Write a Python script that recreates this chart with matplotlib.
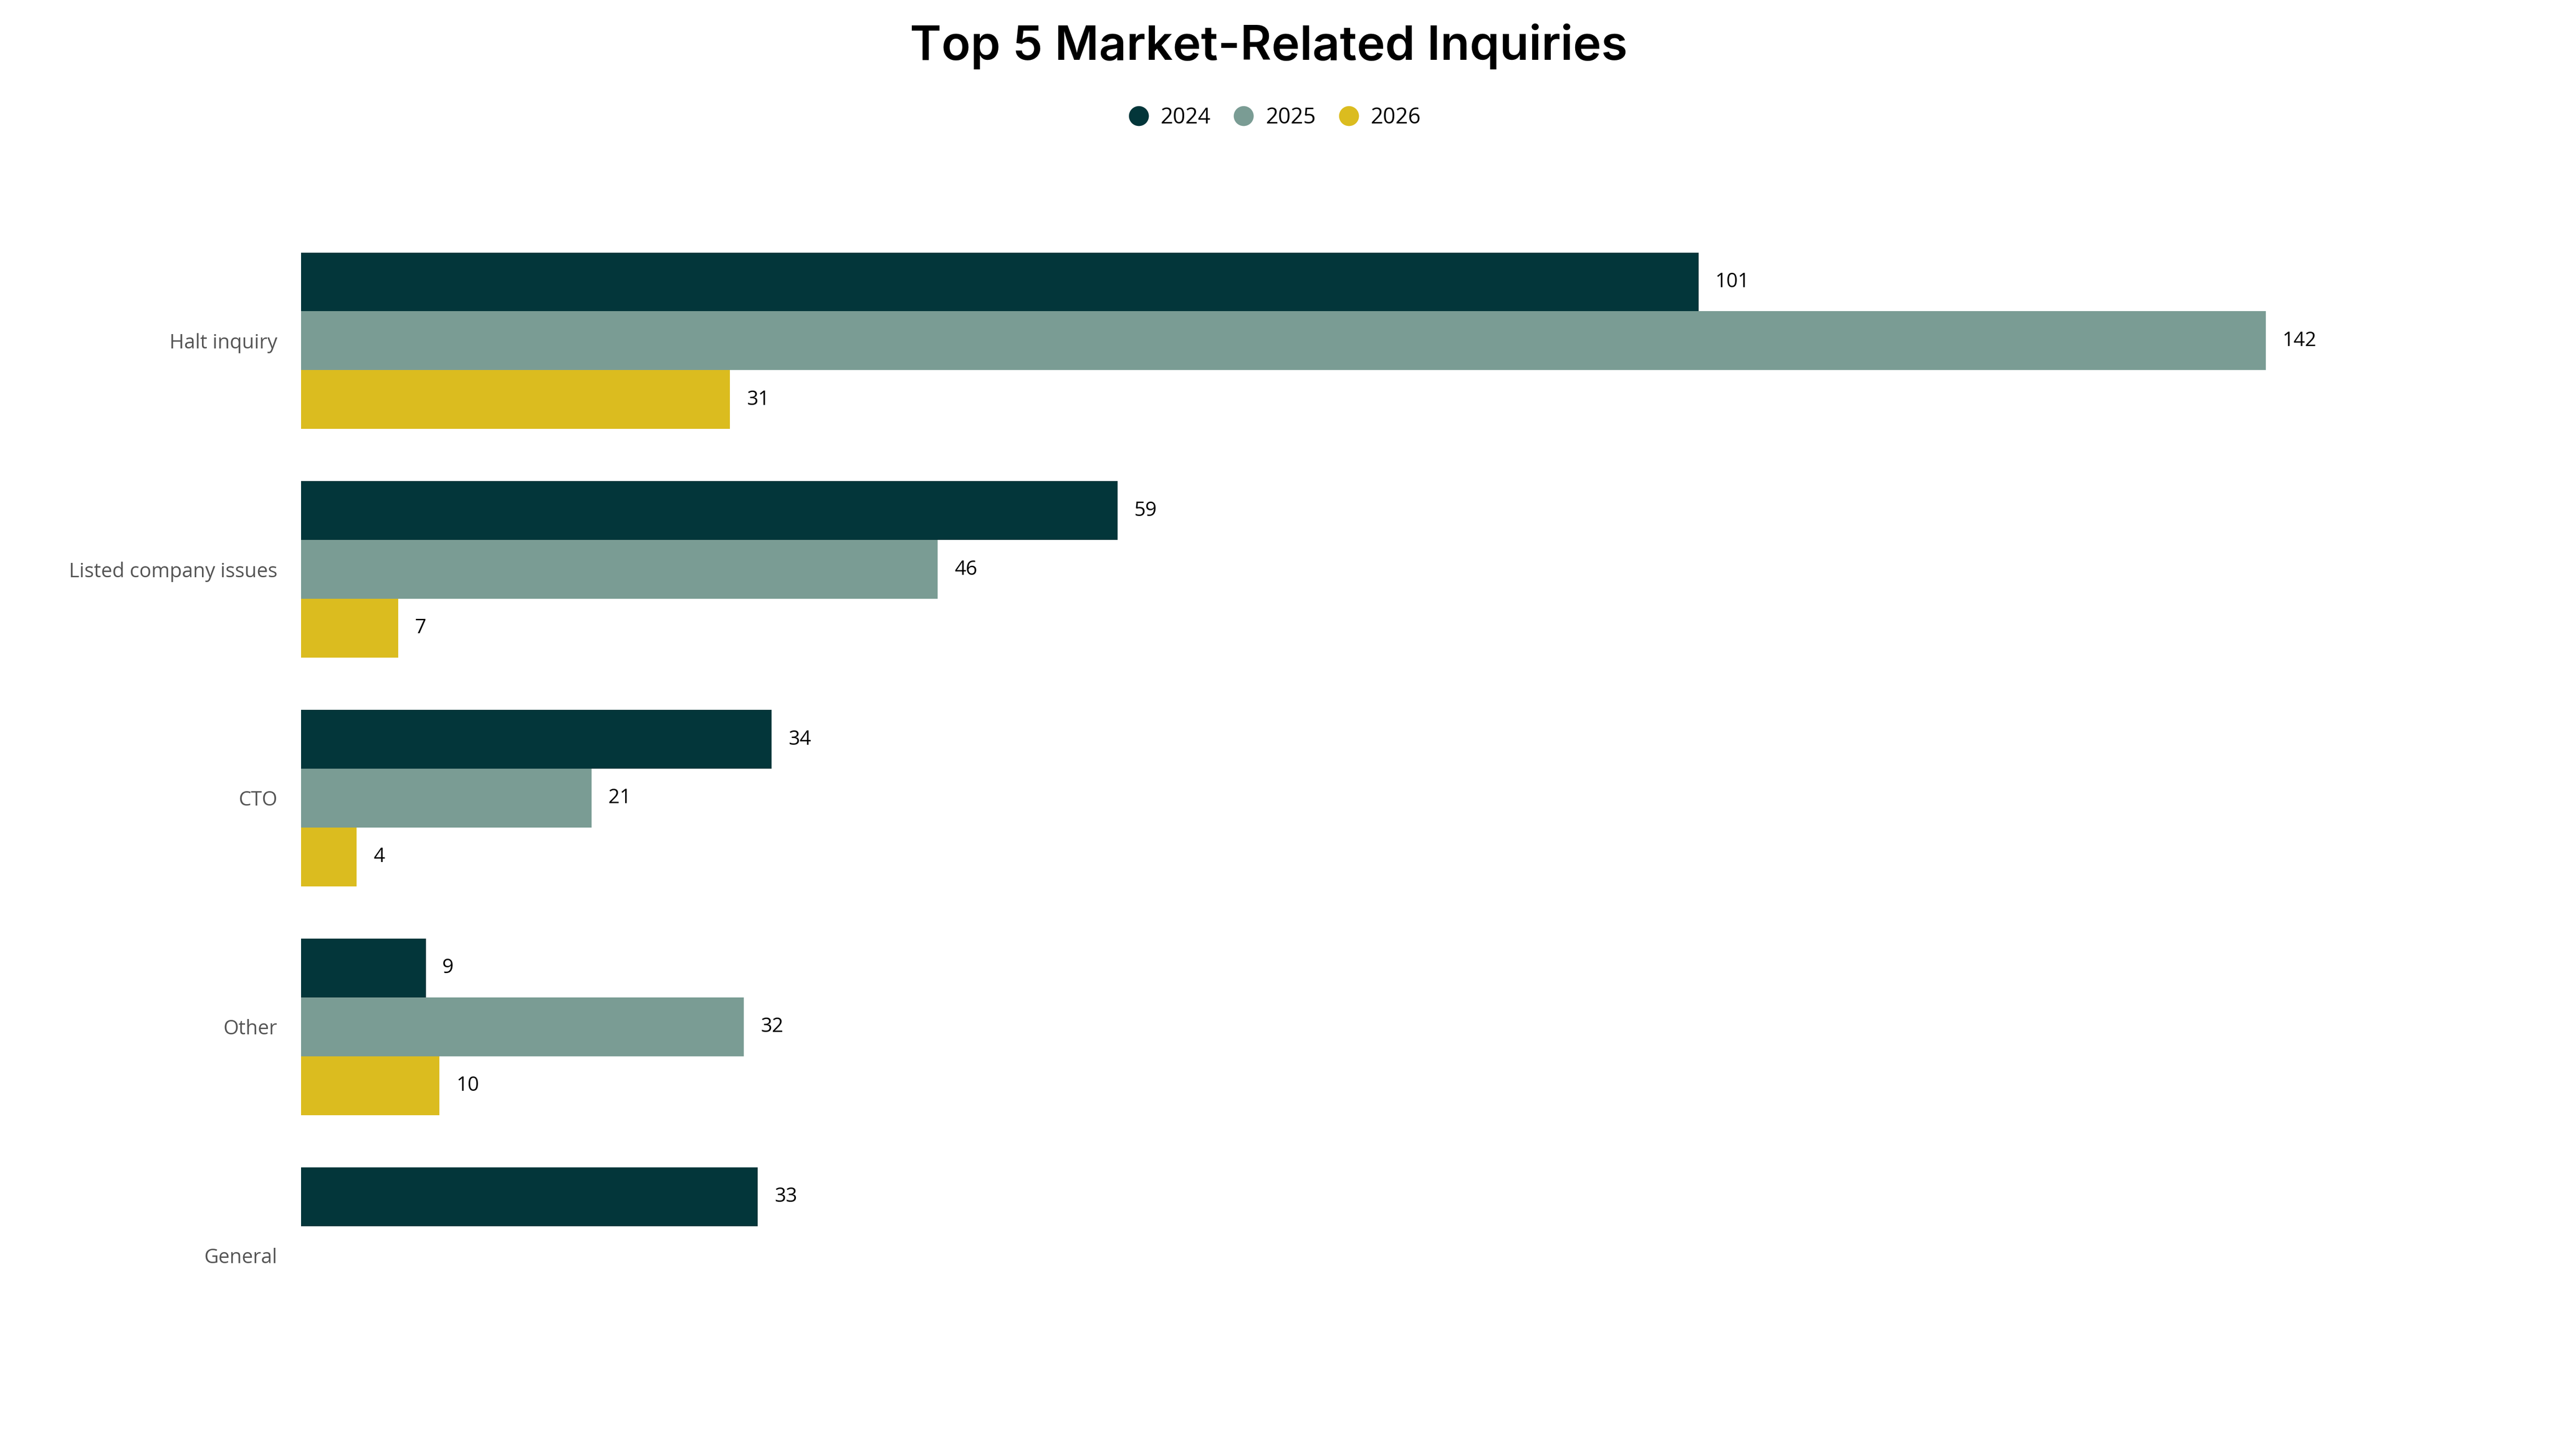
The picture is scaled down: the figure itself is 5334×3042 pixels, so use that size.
import matplotlib
matplotlib.use("Agg")
import matplotlib.pyplot as plt
from matplotlib.lines import Line2D
import numpy as np

categories = ["Halt inquiry", "Listed company issues", "CTO", "Other", "General"]
years = ["2024", "2025", "2026"]
v2024 = [101, 59, 34, 9, 33]
v2025 = [142, 46, 21, 32, None]
v2026 = [31, 7, 4, 10, None]
colors = ["#03363A", "#7A9C94", "#DBBC1F"]

plt.rcParams['font.family'] = ['Open Sans', 'DejaVu Sans']
fig = plt.figure(figsize=(5334/300, 3042/300), dpi=300)
ax = fig.add_axes([0.118, 0.045, 0.867, 0.82])
h = 0.257
y = np.arange(len(categories))
for i, (vals, c) in enumerate(zip([v2024, v2025, v2026], colors)):
    for j, v in enumerate(vals):
        if v is None:
            continue
        yy = y[j] + (i - 1) * h
        ax.barh(yy, v, height=h, color=c)
        ax.text(v + 1.2, yy, str(v), va='center', ha='left', fontsize=10, color='black')
ax.set_xlim(0, 160)
ax.set_ylim(4.59, -0.63)
ax.set_yticks(y)
ax.set_yticklabels(categories, fontsize=10, color='#555555')
ax.set_xticks([])
ax.tick_params(axis='y', length=0, pad=12)
for s in ax.spines.values():
    s.set_visible(False)

fig.text(0.497, 0.968, "Top 5 Market-Related Inquiries", ha='center', va='center',
         fontsize=24, fontweight='semibold', family=['Inter', 'DejaVu Sans'])
handles = [Line2D([], [], marker='o', linestyle='', color=c, markersize=9) for c in colors]
fig.legend(handles, years, loc='center', bbox_to_anchor=(0.497, 0.919), ncol=3, frameon=False,
           fontsize=11, handletextpad=0.0, columnspacing=0.5, borderaxespad=0)
fig.savefig("out.png", dpi=300)
